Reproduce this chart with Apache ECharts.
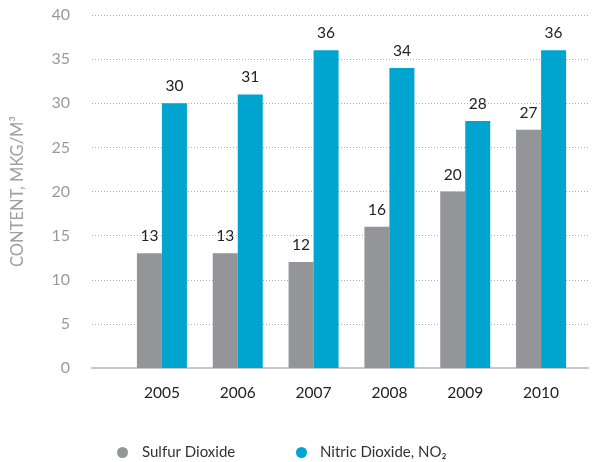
<!DOCTYPE html>
<html>
<head>
<meta charset="utf-8">
<script src="https://cdn.jsdelivr.net/npm/echarts@6/dist/echarts.min.js"></script>
<style>html,body{margin:0;padding:0;background:#fff;}#c{width:596px;height:462px;}</style>
</head>
<body>
<div id="c"></div>
<script>
var categories = ['2005', '2006', '2007', '2008', '2009', '2010'];
var sulfurDioxide = [13, 13, 12, 16, 20, 27];
var nitricDioxide = [30, 31, 36, 34, 28, 36];
var yTicks = [0, 5, 10, 15, 20, 25, 30, 35, 40];
var seriesNames = ['Sulfur Dioxide', 'Nitric Dioxide, NO\u2082'];
var axisTitle = 'CONTENT, MKG/M\u00B3';

var FONT = 'Lato';
var chart = echarts.init(document.getElementById('c'), null, {renderer: 'canvas'});
var yMin = yTicks[0], yMax = yTicks[yTicks.length - 1], yInt = yTicks[1] - yTicks[0];
chart.setOption({
  animation: false,
  textStyle: {fontFamily: FONT},
  legend: [
    {data: [seriesNames[0]], left: 112, top: 440, icon: 'circle', itemWidth: 11, itemHeight: 11,
     textStyle: {color: '#333', fontSize: 15, fontFamily: FONT, padding: [0, 0, 0, 9]}},
    {data: [seriesNames[1]], left: 291, top: 440, icon: 'circle', itemWidth: 11, itemHeight: 11,
     textStyle: {color: '#333', fontSize: 15, fontFamily: FONT, padding: [0, 0, 0, 8]}}
  ],
  grid: [
    {left: 92, right: 8, top: 15, bottom: 94},
    {left: 124, width: 455, top: 15, bottom: 94}
  ],
  xAxis: [
    {type: 'category', gridIndex: 0, data: categories,
     axisLine: {show: true, lineStyle: {color: '#c8c8c8', width: 2}},
     axisTick: {show: false}, axisLabel: {show: false}, splitLine: {show: false}},
    {type: 'category', gridIndex: 1, data: categories,
     axisLine: {show: false}, axisTick: {show: false},
     axisLabel: {color: '#222', fontSize: 15.5, margin: 17, fontFamily: FONT}}
  ],
  yAxis: [
    {type: 'value', gridIndex: 0, min: yMin, max: yMax, interval: yInt,
     name: axisTitle, nameLocation: 'middle', nameRotate: 90, nameGap: 66,
     nameTextStyle: {color: '#a0a0a0', fontSize: 16.5, fontFamily: FONT},
     axisLine: {show: false}, axisTick: {show: false},
     axisLabel: {color: '#9a9a9a', fontSize: 16, margin: 22, fontFamily: FONT},
     splitLine: {show: true, lineStyle: {color: '#b0b0b0', type: [1, 2], width: 1}}},
    {type: 'value', gridIndex: 1, min: yMin, max: yMax, interval: yInt,
     axisLine: {show: false}, axisTick: {show: false}, axisLabel: {show: false}, splitLine: {show: false}}
  ],
  series: [
    {name: seriesNames[0], type: 'bar', xAxisIndex: 1, yAxisIndex: 1, data: sulfurDioxide,
     barWidth: 25, barGap: '0%', itemStyle: {color: '#939598'},
     label: {show: true, position: 'top', distance: 9, color: '#222', fontSize: 15.5, fontFamily: FONT}},
    {name: seriesNames[1], type: 'bar', xAxisIndex: 1, yAxisIndex: 1, data: nitricDioxide,
     barWidth: 25, barGap: '0%', itemStyle: {color: '#00a5cf'},
     label: {show: true, position: 'top', distance: 9, color: '#222', fontSize: 15.5, fontFamily: FONT}}
  ]
});
</script>
</body>
</html>
